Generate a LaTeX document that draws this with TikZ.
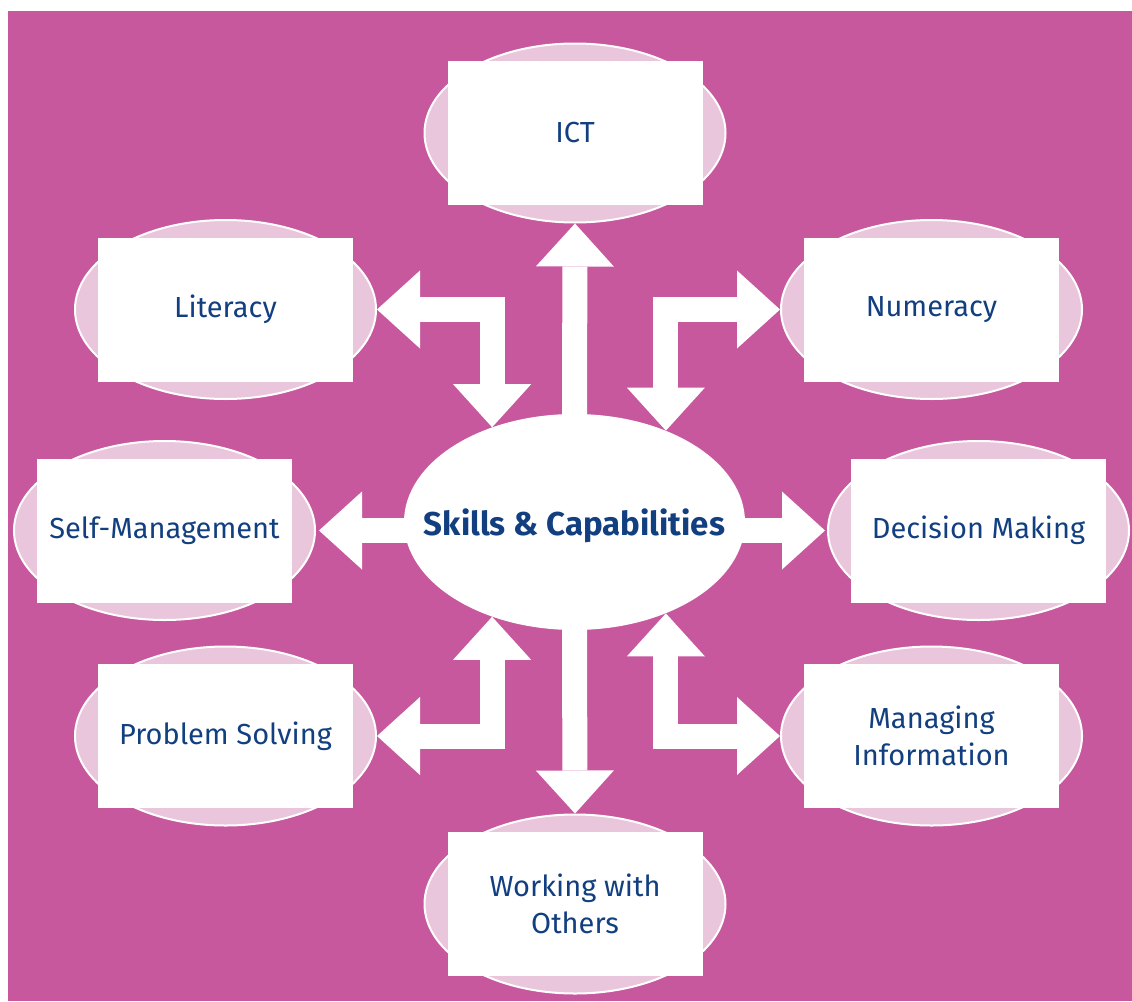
\documentclass[tikz,border=0pt]{standalone}
\usepackage{fontspec}
\setmainfont{Fira Sans}
\usetikzlibrary{shapes.geometric,arrows.meta}

\definecolor{plum}{HTML}{C8589E}
\definecolor{blush}{HTML}{EAC6DD}
\definecolor{navy}{HTML}{123F80}

\begin{document}
\begin{tikzpicture}[x=1pt,y=-1pt,
    blob/.style={ellipse, fill=blush, draw=white, line width=2pt,
        minimum width=301pt, minimum height=179pt},
    card/.style={rectangle, fill=white, inner sep=0pt,
        minimum width=255pt, minimum height=144pt, align=center,
        text=navy, font=\fontsize{29}{36.5}\selectfont},
    fat/.style={draw=white, line width=25pt,
        >={Triangle[width=78pt,length=43pt,line width=0pt]}}]
    \useasboundingbox (0,0) rectangle (1132,1001);
    % Background panel
    \fill[plum] (8,11) rectangle (1132,1001);
    \foreach \name/\x/\y/\txt in {ict/575/133/ICT, lit/225.5/309.5/Literacy,
        num/931.5/309.5/Numeracy, self/164.5/530.5/Self-Management,
        dec/978.5/530.5/Decision Making, prob/225.5/736/Problem Solving,
        mng/931.5/736/{Managing\\Information},
        work/575/904/{Working with\\Others}} {
        % Pale ellipse behind the card
        \node[blob] (\name E) at (\x,\y) {};
        % White card with the skill
        \node[card] (\name) at (\x,\y) {\txt};
    }
    % Central ellipse and its title
    \node[ellipse, fill=white, inner sep=0pt, minimum width=341pt,
        minimum height=216pt] (hub) at (574.5,522) {};
    \node[text=navy, font=\bfseries\fontsize{33}{40}\selectfont]
        (hubtitle) at ([yshift=-4pt]hub.center) {Skills \& Capabilities};
    \coordinate (hubL) at ([xshift=6pt]hub.west);
    \coordinate (hubR) at ([xshift=-6pt]hub.east);

    % Straight arrows
    \draw[fat,->] ([yshift=-3pt]hub.north) -- (ictE.south);
    \draw[fat,->] ([yshift=3pt]hub.south) -- (workE.north);
    \draw[fat,->] (hubL |- selfE.east) -- ([xshift=3pt]selfE.east);
    \draw[fat,->] (hubR |- decE.west) -- ([xshift=-2pt]decE.west);
    % Elbow arrows
    \draw[fat,<->] (litE.east) -| (hub.131.4);
    \draw[fat,<->] (numE.west) -| (hub.45.1);
    \draw[fat,<->] (probE.east) -| (hub.-131.4);
    \draw[fat,<->] (mngE.west) -| (hub.-45.1);
\end{tikzpicture}
\end{document}
